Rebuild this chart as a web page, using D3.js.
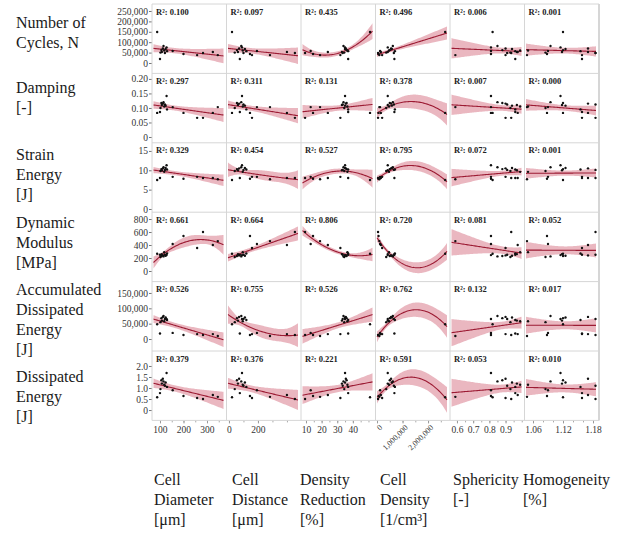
<!DOCTYPE html>
<html>
<head>
<meta charset="utf-8">
<script src="https://cdn.jsdelivr.net/npm/d3@7"></script>
<style>
  body { margin: 0; background: #fff; }
  svg { font-family: "Liberation Serif", "Times New Roman", serif; }
</style>
</head>
<body>
<script>
// one entry per specimen (same order in every array)
var cellDiameter     = [88, 100, 154, 200, 258, 283, 325, 346, 102, 106, 108, 112, 115, 118, 121, 124, 128, 130];
var cellDistance     = [21, 75, 193, 145, 159, 455, 400, 283, 40, 55, 62, 70, 85, 95, 100, 110, 90, 120];
var densityReduction = [51, 37, 13, 14.5, 32, 9.4, 24, 19, 34.5, 36, 33, 35.5, 34, 36.5, 33.5, 35, 35, 37];
var cellDensity      = [2670000, 680000, 120000, 60000, 200000, 40000, 150000, 90000, 360000, 500000, 420000, 550000, 620000, 470000, 660000, 580000, 420000, 700000];
var sphericity       = [0.82, 0.96, 0.81, 0.81, 0.90, 0.935, 0.975, 0.59, 0.93, 0.88, 0.97, 0.90, 0.85, 0.99, 0.91, 0.94, 0.81, 0.96];
var homogeneity      = [1.12, 1.158, 1.09, 1.088, 1.158, 1.185, 1.17, 1.048, 1.085, 1.12, 1.118, 1.17, 1.095, 1.05, 1.185, 1.125, 1.115, 1.155];

var cycles         = [149000, 19000, 58000, 43000, 38000, 48000, 53000, 38000, 50000, 62000, 53000, 70000, 82000, 60000, 48000, 67000, 75000, 57000];
var damping        = [0.083, 0.086, 0.103, 0.083, 0.066, 0.066, 0.083, 0.103, 0.100, 0.117, 0.110, 0.115, 0.120, 0.105, 0.112, 0.108, 0.141, 0.095];
var strainEnergy   = [7.5, 8.0, 8.3, 7.8, 8.3, 8.0, 8.0, 7.7, 9.8, 10.3, 10.0, 10.5, 10.8, 9.6, 10.1, 10.6, 11.3, 10.2];
var dynamicModulus = [265, 250, 415, 538, 354, 600, 400, 460, 215, 230, 260, 240, 225, 290, 250, 235, 245, 270];
var accumEnergy    = [48000, 18000, 20000, 13000, 16000, 13000, 16000, 10000, 55000, 68000, 60000, 72000, 75000, 58000, 65000, 70000, 65000, 62000];
var dissEnergy     = [0.58, 0.77, 0.90, 0.64, 0.55, 0.50, 0.68, 0.60, 0.95, 1.35, 1.20, 1.42, 1.30, 1.15, 1.10, 1.25, 1.68, 1.05];

// R² labels per row
var r2Cycles  = ["0.100", "0.097", "0.435", "0.496", "0.006", "0.001"];
var r2Damping = ["0.297", "0.311", "0.131", "0.378", "0.007", "0.000"];
var r2Strain  = ["0.329", "0.454", "0.527", "0.795", "0.072", "0.001"];
var r2Modulus = ["0.661", "0.664", "0.806", "0.720", "0.081", "0.052"];
var r2Accum   = ["0.526", "0.755", "0.526", "0.762", "0.132", "0.017"];
var r2Diss    = ["0.379", "0.376", "0.221", "0.591", "0.053", "0.010"];

// polynomial degree of each fit
var degCycles  = [1, 1, 2, 1, 1, 1];
var degDamping = [1, 1, 1, 2, 1, 1];
var degStrain  = [1, 2, 2, 2, 1, 1];
var degModulus = [2, 1, 2, 2, 1, 1];
var degAccum   = [1, 2, 1, 2, 1, 1];
var degDiss    = [1, 1, 1, 2, 1, 1];

// axis ticks
var colTicks = [[100, 200, 300], [0, 200], [10, 20, 30, 40], [0, 1000000, 2000000], [0.6, 0.7, 0.8, 0.9], [1.06, 1.12, 1.18]];
var colMinorTicks = [[100, 150, 200, 250, 300, 350], [0, 100, 200, 300, 400], [10, 15, 20, 25, 30, 35, 40, 45, 50], [0, 500000, 1000000, 1500000, 2000000, 2500000], [0.6, 0.65, 0.7, 0.75, 0.8, 0.85, 0.9, 0.95, 1.0], [1.06, 1.08, 1.10, 1.12, 1.14, 1.16, 1.18]];
var rowTicks = [[0, 50000, 100000, 150000, 200000, 250000], [0, 0.05, 0.10, 0.15, 0.20], [0, 5, 10, 15], [0, 200, 400, 600, 800], [0, 50000, 100000, 150000], [0, 0.5, 1.0, 1.5, 2.0]];

var rowLabels = [["Number of", "Cycles, N"], ["Damping", "[-]"], ["Strain", "Energy", "[J]"], ["Dynamic", "Modulus", "[MPa]"], ["Accumulated", "Dissipated", "Energy", "[J]"], ["Dissipated", "Energy", "[J]"]];
var colLabels = [["Cell", "Diameter", "[\u03bcm]"], ["Cell", "Distance", "[\u03bcm]"], ["Density", "Reduction", "[%]"], ["Cell", "Density", "[1/cm\u00b3]"], ["Sphericity", "[-]"], ["Homogeneity", "[%]"]];

var xData = [cellDiameter, cellDistance, densityReduction, cellDensity, sphericity, homogeneity];
var yData = [cycles, damping, strainEnergy, dynamicModulus, accumEnergy, dissEnergy];
var r2 = [r2Cycles, r2Damping, r2Strain, r2Modulus, r2Accum, r2Diss];
var degs = [degCycles, degDamping, degStrain, degModulus, degAccum, degDiss];

// layout
var svgWidth = 633, svgHeight = 535;
var gridLeft = 152, gridTop = 4, colW = 74.5, rowH = 69.4;
var serif = "'Liberation Serif', 'Times New Roman', serif";

var xDomains = [[66, 383], [-17, 497], [6.8, 54.5], [-60000, 2860000], [0.557, 1.017], [1.043, 1.192]];
var yDomains = [[-50000, 283600], [-0.02, 0.219], [-0.83, 17.1], [-163, 905], [-39000, 187000], [-0.47, 2.68]];

var rowFmt = [d3.format(","), function(d) { return d === 0 ? "0" : d3.format(".2f")(d); }, d3.format("d"), d3.format("d"), d3.format(","), function(d) { return d === 0 ? "0" : d3.format(".1f")(d); }];

var svg = d3.select("body").append("svg")
  .attr("width", svgWidth)
  .attr("height", svgHeight)
  .attr("font-family", serif);

// least squares polynomial with confidence band
function fitPoly(xs, ys, deg) {
  var n = xs.length, p = deg + 1;
  var mx = d3.mean(xs), sx = d3.deviation(xs);
  function row(x) {
    var u = (x - mx) / sx, r = [];
    for (var k = 0; k < p; k++) r.push(Math.pow(u, k));
    return r;
  }
  var X = xs.map(row);
  var A = [], b = [];
  for (var i = 0; i < p; i++) {
    A.push([]);
    b.push(0);
    for (var j = 0; j < p; j++) A[i].push(0);
  }
  X.forEach(function(r, k) {
    for (var i = 0; i < p; i++) {
      b[i] += r[i] * ys[k];
      for (var j = 0; j < p; j++) A[i][j] += r[i] * r[j];
    }
  });
  // invert A (Gauss-Jordan)
  var M = A.map(function(r, i) {
    var e = [];
    for (var j = 0; j < p; j++) e.push(i === j ? 1 : 0);
    return r.concat(e);
  });
  for (var c = 0; c < p; c++) {
    var piv = c;
    for (var r = c + 1; r < p; r++) if (Math.abs(M[r][c]) > Math.abs(M[piv][c])) piv = r;
    var tmp = M[c]; M[c] = M[piv]; M[piv] = tmp;
    var d = M[c][c];
    for (var j = 0; j < 2 * p; j++) M[c][j] /= d;
    for (var r2i = 0; r2i < p; r2i++) {
      if (r2i === c) continue;
      var f = M[r2i][c];
      for (var j2 = 0; j2 < 2 * p; j2++) M[r2i][j2] -= f * M[c][j2];
    }
  }
  var inv = M.map(function(r) { return r.slice(p); });
  var beta = inv.map(function(r) { return d3.sum(r, function(v, j) { return v * b[j]; }); });
  var sse = d3.sum(X, function(r, k) {
    var yh = d3.sum(r, function(v, j) { return v * beta[j]; });
    return (ys[k] - yh) * (ys[k] - yh);
  });
  var s2 = sse / (n - p);
  var t = 2.12;
  return function(x) {
    var r = row(x);
    var yh = d3.sum(r, function(v, j) { return v * beta[j]; });
    var q = 0;
    for (var i = 0; i < p; i++) for (var j = 0; j < p; j++) q += r[i] * inv[i][j] * r[j];
    var se = Math.sqrt(s2 * q);
    return { x: x, y: yh, lo: yh - t * se, hi: yh + t * se };
  };
}

var defs = svg.append("defs");

for (var ri = 0; ri < 6; ri++) {
  for (var ci = 0; ci < 6; ci++) {
    var px = gridLeft + ci * colW, py = gridTop + ri * rowH;
    var x = d3.scaleLinear().domain(xDomains[ci]).range([px, px + colW]);
    var y = d3.scaleLinear().domain(yDomains[ri]).range([py + rowH, py]);

    var clipId = "clip" + ri + "_" + ci;
    defs.append("clipPath").attr("id", clipId)
      .append("rect").attr("x", px).attr("y", py).attr("width", colW).attr("height", rowH);

    var g = svg.append("g").attr("clip-path", "url(#" + clipId + ")");

    var xs = xData[ci], ys = yData[ri];
    var fit = fitPoly(xs, ys, degs[ri][ci]);
    var x0 = x.invert(px + 1.5), x1 = x.invert(px + colW - 3);
    var pts = d3.range(0, 61).map(function(k) { return fit(x0 + (x1 - x0) * k / 60); });

    g.append("path")
      .datum(pts)
      .attr("fill", "#e6aab5")
      .attr("fill-opacity", 0.85)
      .attr("d", d3.area().x(function(d) { return x(d.x); }).y0(function(d) { return y(d.lo); }).y1(function(d) { return y(d.hi); }));

    g.append("path")
      .datum(pts)
      .attr("fill", "none")
      .attr("stroke", "#9c1b33")
      .attr("stroke-width", 1.1)
      .attr("d", d3.line().x(function(d) { return x(d.x); }).y(function(d) { return y(d.y); }));

    g.selectAll("circle")
      .data(xs.map(function(v, k) { return [v, ys[k]]; }))
      .enter()
      .append("circle")
      .attr("cx", function(d) { return x(d[0]); })
      .attr("cy", function(d) { return y(d[1]); })
      .attr("r", 1.2)
      .attr("fill", "#111");

    svg.append("text")
      .attr("x", px + 4)
      .attr("y", py + 10.5)
      .attr("font-family", serif)
      .attr("font-size", "8.5px")
      .attr("font-weight", "bold")
      .attr("fill", "#222")
      .text("R\u00b2: " + r2[ri][ci]);

    // y axis on first column
    if (ci === 0) {
      var ya = svg.append("g")
        .attr("transform", "translate(" + px + ",0)")
        .call(d3.axisLeft(y).tickValues(rowTicks[ri]).tickSize(3).tickPadding(1).tickFormat(rowFmt[ri]));
      ya.select(".domain").remove();
      ya.selectAll("line").attr("stroke", "#777");
      ya.selectAll("text").attr("font-size", "9.5px").attr("fill", "#333").attr("font-family", serif);
    }

    // x axis on bottom row
    if (ri === 5) {
      var xm = svg.append("g")
        .attr("transform", "translate(0," + (py + rowH) + ")")
        .call(d3.axisBottom(x).tickValues(colMinorTicks[ci]).tickSize(2).tickFormat(""));
      xm.select(".domain").remove();
      xm.selectAll("line").attr("stroke", "#aaa");

      var xa = svg.append("g")
        .attr("transform", "translate(0," + (py + rowH) + ")")
        .call(d3.axisBottom(x).tickValues(colTicks[ci]).tickSize(3).tickPadding(3)
          .tickFormat(ci === 3 ? d3.format(",") : d3.format("")));
      xa.select(".domain").remove();
      xa.selectAll("line").attr("stroke", "#999");
      xa.selectAll("text").attr("font-size", "9.5px").attr("fill", "#333").attr("font-family", serif);
      if (ci === 3) {
        xa.selectAll("text")
          .attr("font-size", "8px")
          .attr("text-anchor", "end")
          .attr("transform", "rotate(-45)")
          .attr("dx", "-0.2em")
          .attr("dy", "0.4em");
      }
    }
  }
}

// panel grid
for (var k = 0; k <= 6; k++) {
  svg.append("line")
    .attr("x1", gridLeft + k * colW).attr("x2", gridLeft + k * colW)
    .attr("y1", gridTop).attr("y2", gridTop + 6 * rowH)
    .attr("stroke", "#d6d6d6").attr("stroke-width", k === 6 ? 2 : 1);
  svg.append("line")
    .attr("x1", gridLeft).attr("x2", gridLeft + 6 * colW)
    .attr("y1", gridTop + k * rowH).attr("y2", gridTop + k * rowH)
    .attr("stroke", "#d6d6d6").attr("stroke-width", 1);
}

// row labels
var rowLabelY = [28, 93, 160, 228, 295, 382];
rowLabels.forEach(function(lines, i) {
  var t = svg.append("text")
    .attr("x", 16)
    .attr("y", rowLabelY[i])
    .attr("font-family", serif)
    .attr("font-size", "16px")
    .attr("fill", "#1a1a1a");
  lines.forEach(function(s, j) {
    t.append("tspan").attr("x", 16).attr("dy", j === 0 ? 0 : 20).text(s);
  });
});

// column labels
var colLabelX = [154, 232, 300, 380, 453, 523];
colLabels.forEach(function(lines, i) {
  var t = svg.append("text")
    .attr("x", colLabelX[i])
    .attr("y", 485)
    .attr("font-family", serif)
    .attr("font-size", "16px")
    .attr("fill", "#1a1a1a");
  lines.forEach(function(s, j) {
    t.append("tspan").attr("x", colLabelX[i]).attr("dy", j === 0 ? 0 : 20).text(s);
  });
});
</script>
</body>
</html>
